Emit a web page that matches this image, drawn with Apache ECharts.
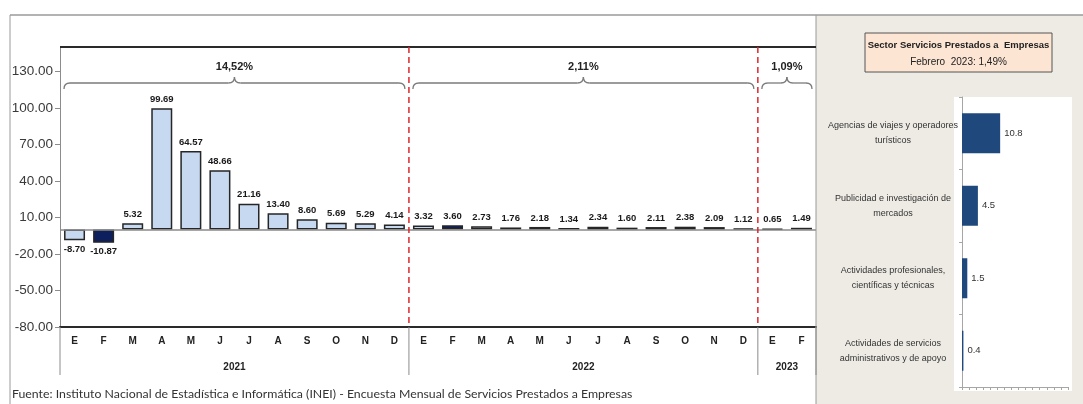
<!DOCTYPE html>
<html>
<head>
<meta charset="utf-8">
<script src="https://cdn.jsdelivr.net/npm/echarts@6/dist/echarts.min.js"></script>
<style>
  html, body { margin: 0; padding: 0; background: #ffffff; }
  #chart { width: 1083px; height: 404px; }
</style>
</head>
<body>
<div id="chart"></div>
<script>
// Monthly variation (%) of the services-to-business sector
const months = ['E','F','M','A','M','J','J','A','S','O','N','D',
                'E','F','M','A','M','J','J','A','S','O','N','D',
                'E','F'];
const values2021 = [-8.70, -10.87, 5.32, 99.69, 64.57, 48.66, 21.16, 13.40, 8.60, 5.69, 5.29, 4.14];
const values2022 = [3.32, 3.60, 2.73, 1.76, 2.18, 1.34, 2.34, 1.60, 2.11, 2.38, 2.09, 1.12];
const values2023 = [0.65, 1.49];
const years = ['2021', '2022', '2023'];
const yearTotals = ['14,52%', '2,11%', '1,09%'];
const yearLengths = [values2021.length, values2022.length, values2023.length];
const highlighted = [1, 13]; // February bars drawn in navy

// Breakdown by activity, February 2023
const activities = [
  'Agencias de viajes y operadores\nturísticos',
  'Publicidad e investigación de\nmercados',
  'Actividades profesionales,\ncientíficas y técnicas',
  'Actividades de servicios\nadministrativos y de apoyo'
];
const activityValues = [10.8, 4.5, 1.5, 0.4];

const SANS = "'Liberation Sans',Arial,sans-serif";
const LIGHT = "Lato,'Noto Sans',sans-serif";

const allValues = values2021.concat(values2022, values2023);
const barData = allValues.map((v, i) => ({
  value: v,
  itemStyle: highlighted.includes(i) ? { color: '#0d1f5c' } : undefined,
  label: { position: v < 0 ? 'bottom' : 'top' }
}));

const chart = echarts.init(document.getElementById('chart'), null, { renderer: 'canvas' });

chart.setOption({
  animation: false,
  backgroundColor: '#ffffff',
  grid: [
    { left: 60, right: 267, top: 47, bottom: 77 },
    { left: 962, right: 15, top: 97, bottom: 17 }
  ],
  xAxis: [
    {
      gridIndex: 0,
      type: 'category',
      data: months,
      axisLine: { onZero: false, lineStyle: { color: '#2a2a2a', width: 2 } },
      axisTick: { show: false },
      axisLabel: { margin: 9, fontFamily: SANS, fontWeight: 'bold', fontSize: 10, color: '#222' }
    },
    {
      gridIndex: 1,
      type: 'value',
      min: 0, max: 30, interval: 2,
      axisLine: { show: true, lineStyle: { color: '#a6a6a6' } },
      axisTick: { show: true, length: 3, lineStyle: { color: '#a6a6a6' } },
      axisLabel: { show: false },
      splitLine: { show: false }
    }
  ],
  yAxis: [
    {
      gridIndex: 0,
      type: 'value',
      min: -80, max: 150, interval: 30,
      axisLine: { show: true, lineStyle: { color: '#8c8c8c' } },
      axisTick: { show: true, length: 5, lineStyle: { color: '#8c8c8c' } },
      axisLabel: {
        showMaxLabel: false,
        margin: 7,
        fontFamily: SANS, fontSize: 13.5, color: '#3a3a3a',
        formatter: v => v.toFixed(2)
      },
      splitLine: { show: false }
    },
    {
      gridIndex: 1,
      type: 'category',
      inverse: true,
      data: activities,
      axisLine: { show: true, lineStyle: { color: '#a6a6a6' } },
      axisTick: { show: true, length: 3, lineStyle: { color: '#a6a6a6' } },
      axisLabel: {
        align: 'center', margin: 69,
        fontFamily: SANS, fontSize: 9, lineHeight: 15, color: '#333'
      }
    }
  ],
  series: [
    {
      type: 'bar',
      xAxisIndex: 0, yAxisIndex: 0,
      data: barData,
      barWidth: 21,
      itemStyle: { color: '#c6d9f1', borderColor: '#262626', borderWidth: 1.5 },
      label: {
        show: true, distance: 4,
        fontFamily: SANS, fontWeight: 'bold', fontSize: 9.5, color: '#1a1a1a',
        formatter: p => p.value.toFixed(2)
      },
      markLine: {
        silent: true, symbol: 'none', label: { show: false },
        lineStyle: { color: '#8a8a8a', width: 1.5, type: 'solid' },
        data: [{ yAxis: 0 }]
      }
    },
    {
      type: 'bar',
      xAxisIndex: 1, yAxisIndex: 1,
      data: activityValues,
      barWidth: 40,
      itemStyle: { color: '#1f497d' },
      label: {
        show: true, position: 'right', distance: 4,
        fontFamily: SANS, fontSize: 9.5, color: '#333',
        formatter: p => p.value.toFixed(1)
      }
    }
  ]
});

// Frames, year groups, braces and the side panel decorations
function decorate() {
  const px = i => chart.convertToPixel({ xAxisIndex: 0 }, i);
  const py = v => chart.convertToPixel({ yAxisIndex: 0 }, v);
  const cw = px(1) - px(0);
  const left = px(0) - cw / 2;
  const right = px(allValues.length - 1) + cw / 2;
  const top = py(150);
  const bottom = py(-80);
  const groupBottom = bottom + 48;
  const braceY = top + 36;
  const braceStyle = { stroke: '#7a7a7a', lineWidth: 1.3, fill: null };

  const g = [];
  // side panel background
  g.push({ type: 'rect', z: -10, shape: { x: 816, y: 15, width: 267, height: 389 },
           style: { fill: '#edebe4' } });
  g.push({ type: 'rect', z: -9, shape: { x: 954, y: 97, width: 118, height: 294 },
           style: { fill: '#ffffff' } });
  // outer frame of the main chart
  g.push({ type: 'line', z: 5, shape: { x1: 10, y1: 15, x2: 1083, y2: 15 },
           style: { stroke: '#9a9a9a', lineWidth: 1.5 } });
  g.push({ type: 'line', z: 5, shape: { x1: 10, y1: 15, x2: 10, y2: 404 },
           style: { stroke: '#9a9a9a', lineWidth: 1 } });
  g.push({ type: 'line', z: 5, shape: { x1: 816, y1: 15, x2: 816, y2: 404 },
           style: { stroke: '#9a9a9a', lineWidth: 1 } });
  // top border of the plot
  g.push({ type: 'line', z: 5, shape: { x1: left, y1: top, x2: right, y2: top },
           style: { stroke: '#2a2a2a', lineWidth: 2 } });

  // year groups
  let start = 0;
  const bounds = [left];
  yearLengths.forEach((n, k) => {
    const x1 = px(start) - cw / 2;
    const x2 = px(start + n - 1) + cw / 2;
    const mid = (x1 + x2) / 2;
    bounds.push(x2);
    // year label under the month letters
    g.push({ type: 'text', z: 5, x: mid, y: bottom + 40,
             style: { text: years[k], fill: '#222', font: 'bold 10px ' + SANS,
                      textAlign: 'center', textVerticalAlign: 'middle' } });
    // brace with annual rate
    const a = x1 + 4, b = x2 - 4, r = 6, y = braceY;
    const curve = (sx, sy, cx, cy, ex, ey) => g.push({ type: 'bezierCurve', z: 5,
      shape: { x1: sx, y1: sy, cpx1: cx, cpy1: cy, x2: ex, y2: ey }, style: braceStyle });
    const seg = (sx, ex) => g.push({ type: 'line', z: 5,
      shape: { x1: sx, y1: y, x2: ex, y2: y }, style: braceStyle });
    curve(a, y + r, a, y, a + r, y);
    seg(a + r, mid - r);
    curve(mid - r, y, mid, y, mid, y - r);
    curve(mid, y - r, mid, y, mid + r, y);
    seg(mid + r, b - r);
    curve(b - r, y, b, y, b, y + r);
    g.push({ type: 'text', z: 5, x: mid, y: top + 20,
             style: { text: yearTotals[k], fill: '#222', font: 'bold 11px ' + SANS,
                      textAlign: 'center', textVerticalAlign: 'middle' } });
    start += n;
  });
  // vertical separators below the axis
  bounds.forEach(x => {
    g.push({ type: 'line', z: 5, shape: { x1: x, y1: bottom, x2: x, y2: groupBottom },
             style: { stroke: '#8c8c8c', lineWidth: 1 } });
  });
  // red dashed dividers between years
  bounds.slice(1, -1).forEach(x => {
    g.push({ type: 'line', z: 6, shape: { x1: x, y1: top, x2: x, y2: bottom },
             style: { stroke: '#e0262b', lineWidth: 1.5, lineDash: [6, 4] } });
  });

  // source note
  g.push({ type: 'text', z: 5, x: 12, y: 394,
           style: { text: 'Fuente: Instituto Nacional de Estadística e Informática (INEI) - Encuesta Mensual de Servicios Prestados a Empresas',
                    fill: '#333', font: '12.3px ' + LIGHT, textVerticalAlign: 'middle' } });

  // side panel title box
  g.push({ type: 'rect', z: 5, shape: { x: 865, y: 33, width: 187, height: 39 },
           style: { fill: '#fde5d4', stroke: '#555', lineWidth: 1 } });
  g.push({ type: 'text', z: 6, x: 958.5, y: 45,
           style: { text: 'Sector Servicios Prestados a  Empresas', fill: '#222',
                    font: 'bold 9.5px ' + SANS, textAlign: 'center', textVerticalAlign: 'middle' } });
  g.push({ type: 'text', z: 6, x: 958.5, y: 62,
           style: { text: 'Febrero  2023: 1,49%', fill: '#222',
                    font: '10px ' + SANS, textAlign: 'center', textVerticalAlign: 'middle' } });

  chart.setOption({ graphic: g });
}
decorate();
</script>
</body>
</html>
